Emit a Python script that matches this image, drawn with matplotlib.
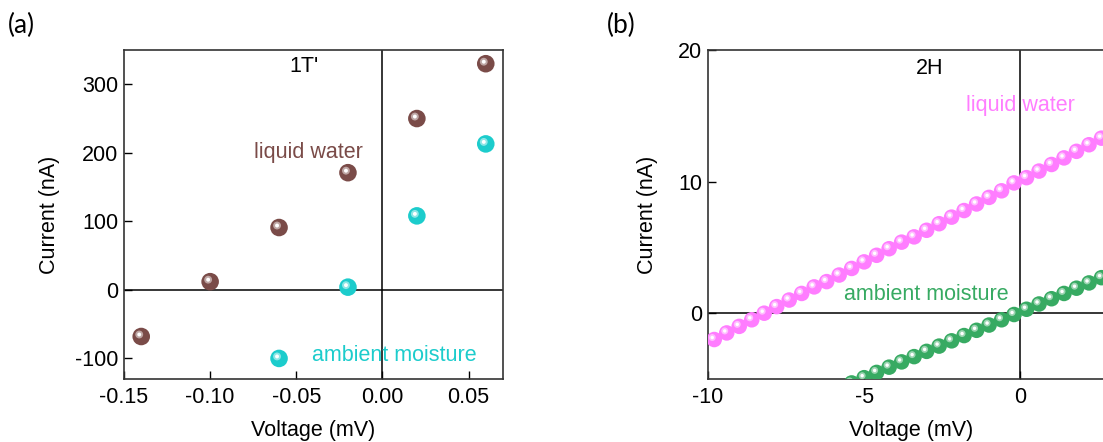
import numpy as np
import matplotlib
matplotlib.use('Agg')
import matplotlib.pyplot as plt
from matplotlib.transforms import offset_copy
from matplotlib.colors import to_rgb

plt.rcParams['font.family'] = ['Liberation Sans', 'DejaVu Sans']
plt.rcParams['axes.unicode_minus'] = False

# (a) 1T'
v_a_water = [-0.14, -0.10, -0.06, -0.02, 0.02, 0.06]
i_a_water = [-68, 12, 91, 171, 250, 330]
v_a_moist = [-0.06, -0.02, 0.02, 0.06]
i_a_moist = [-100, 4, 108, 213]

# (b) 2H
v_b = [-9.8, -9.4, -9.0, -8.6, -8.2, -7.8, -7.4, -7.0, -6.6, -6.2, -5.8, -5.4,
       -5.0, -4.6, -4.2, -3.8, -3.4, -3.0, -2.6, -2.2, -1.8, -1.4, -1.0, -0.6,
       -0.2, 0.2, 0.6, 1.0, 1.4, 1.8, 2.2, 2.6, 3.0]
i_b_water = [-2.0, -1.5, -1.0, -0.5, 0.0, 0.5, 1.0, 1.5, 2.0, 2.4, 2.9, 3.4,
             3.9, 4.4, 4.9, 5.4, 5.8, 6.3, 6.8, 7.3, 7.8, 8.3, 8.8, 9.3,
             9.9, 10.3, 10.8, 11.3, 11.8, 12.3, 12.8, 13.3, 13.8]
i_b_moist = [-9.7, -9.3, -8.9, -8.5, -8.1, -7.7, -7.3, -6.9, -6.5, -6.1, -5.7, -5.3,
             -4.9, -4.5, -4.1, -3.7, -3.3, -2.9, -2.5, -2.1, -1.7, -1.3, -0.9, -0.5,
             -0.1, 0.3, 0.7, 1.1, 1.5, 1.9, 2.3, 2.7, 3.1]

c_brown = '#7a4b48'
c_cyan = '#1ccccc'
c_pink = '#ff7dff'
c_green = '#37aa62'

FS = 15.5


def lighten(c, f):
    r, g, b = to_rgb(c)
    return (r + (1 - r) * f, g + (1 - g) * f, b + (1 - b) * f)


def balls(ax, x, y, color, s):
    # sphere look: base dot plus a small highlight shifted up-left
    ax.scatter(x, y, s=s, color=color, edgecolors='none', zorder=3, clip_on=True)
    tr = offset_copy(ax.transData, fig=ax.figure, x=-2, y=2, units='dots')
    ax.scatter(x, y, s=s * 0.2, color=lighten(color, 0.5), edgecolors='none',
               transform=tr, zorder=4, clip_on=True)
    ax.scatter(x, y, s=s * 0.05, color='white', edgecolors='none',
               transform=tr, zorder=5, clip_on=True)


def style(ax):
    for sp in ax.spines.values():
        sp.set_linewidth(1.2)
        sp.set_color('#333333')
    ax.tick_params(direction='in', length=6, width=1, labelsize=FS,
                   top=False, right=False, colors='black')
    ax.tick_params(axis='x', pad=6)
    ax.tick_params(axis='y', pad=4)
    ax.axhline(0, color='black', lw=1.1, zorder=2)
    ax.axvline(0, color='black', lw=1.1, zorder=2)


fig = plt.figure(figsize=(11.03, 4.42), dpi=100)

ax1 = fig.add_axes([124 / 1103, 1 - 379 / 442, 379 / 1103, 329 / 442])
style(ax1)
balls(ax1, v_a_water, i_a_water, c_brown, 160)
balls(ax1, v_a_moist, i_a_moist, c_cyan, 160)
ax1.set_xlim(-0.15, 0.07)
ax1.set_ylim(-130, 350)
ax1.set_xticks([-0.15, -0.10, -0.05, 0.00, 0.05])
ax1.set_xticklabels(['-0.15', '-0.10', '-0.05', '0.00', '0.05'])
ax1.set_yticks([-100, 0, 100, 200, 300])
ax1.set_xlabel('Voltage (mV)', fontsize=FS)
ax1.set_ylabel('Current (nA)', fontsize=FS)
ax1.xaxis.set_label_coords(0.5, -0.125)
ax1.yaxis.set_label_coords(-0.17, 0.5)
ax1.text(0.475, 0.95, "1T'", transform=ax1.transAxes, fontsize=FS,
         ha='center', va='center')
ax1.text(-0.043, 200, 'liquid water', color=c_brown, fontsize=FS,
         ha='center', va='center')
ax1.text(0.007, -96, 'ambient moisture', color=c_cyan, fontsize=FS,
         ha='center', va='center')

ax2 = fig.add_axes([708 / 1103, 1 - 379 / 442, 406 / 1103, 329 / 442])
style(ax2)
balls(ax2, v_b, i_b_water, c_pink, 125)
balls(ax2, v_b, i_b_moist, c_green, 125)
ax2.set_xlim(-10, 3)
ax2.set_ylim(-5, 20)
ax2.set_xticks([-10, -5, 0])
ax2.set_yticks([0, 10, 20])
ax2.set_xlabel('Voltage (mV)', fontsize=FS)
ax2.set_ylabel('Current (nA)', fontsize=FS)
ax2.xaxis.set_label_coords(0.5, -0.125)
ax2.yaxis.set_label_coords(-0.123, 0.5)
ax2.text(-2.9, 18.6, '2H', fontsize=FS, ha='center', va='center')
ax2.text(0.0, 15.8, 'liquid water', color=c_pink, fontsize=FS,
         ha='center', va='center')
ax2.text(-3.0, 1.4, 'ambient moisture', color=c_green, fontsize=FS,
         ha='center', va='center')

fig.text(8 / 1103, 1 - 25 / 442, '(a)', fontsize=19, va='center', family='Lato')
fig.text(607 / 1103, 1 - 25 / 442, '(b)', fontsize=19, va='center', family='Lato')

fig.savefig('out.png', dpi=100)
